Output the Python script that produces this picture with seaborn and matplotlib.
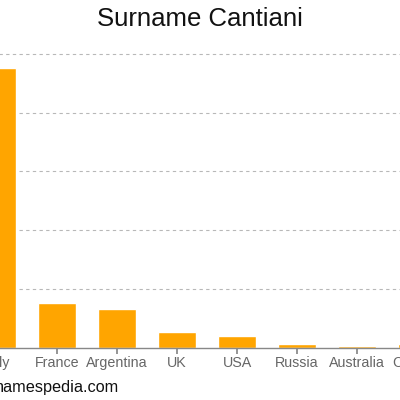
import matplotlib
matplotlib.use("Agg")
import matplotlib.pyplot as plt
import seaborn as sns
import pandas as pd

countries = ["Italy", "France", "Argentina", "UK", "USA", "Russia", "Australia", "Canada"]
counts = [475, 77, 66, 27, 20, 7, 3, 7]
grid_ticks = [100, 200, 300, 400, 500]

BAR_COLOR = "#ffa500"
GRID_COLOR = "#b8b8b8"
TICK_COLOR = "#888888"

sns.set_theme(style="white")
plt.rcParams["font.family"] = ["Liberation Sans", "DejaVu Sans"]

df = pd.DataFrame({"country": countries, "count": counts})

fig = plt.figure(figsize=(4, 4), dpi=100)
# axes run past the figure edges, the reference is cropped on both sides
ax = fig.add_axes([-33 / 400, 52 / 400, 480 / 400, 306 / 400])

sns.barplot(data=df, x="country", y="count", color=BAR_COLOR, width=0.62,
            saturation=1, ax=ax)

ax.set_xlim(-0.5, 7.5)
ax.set_ylim(0, 520)
ax.set_yticks(grid_ticks)
ax.yaxis.grid(True, linestyle=(0, (3, 3)), color=GRID_COLOR, linewidth=0.8)
ax.set_axisbelow(True)
ax.tick_params(axis="y", left=False, labelleft=False)
ax.tick_params(axis="x", bottom=True, length=4, color=TICK_COLOR,
               labelsize=10.3, labelcolor="#666666", pad=2)

for side in ["top", "right", "left"]:
    ax.spines[side].set_visible(False)
ax.spines["bottom"].set_color(TICK_COLOR)
ax.spines["bottom"].set_linewidth(1)
ax.set_xlabel("")
ax.set_ylabel("")

fig.text(0.5, 0.953, "Surname Cantiani", ha="center", va="center", fontsize=18.5, color="#111111")
fig.text(-0.012, 0.031, "namespedia.com", ha="left", va="center", fontsize=11.7, color="#111111")

fig.savefig("out.png", dpi=100)
